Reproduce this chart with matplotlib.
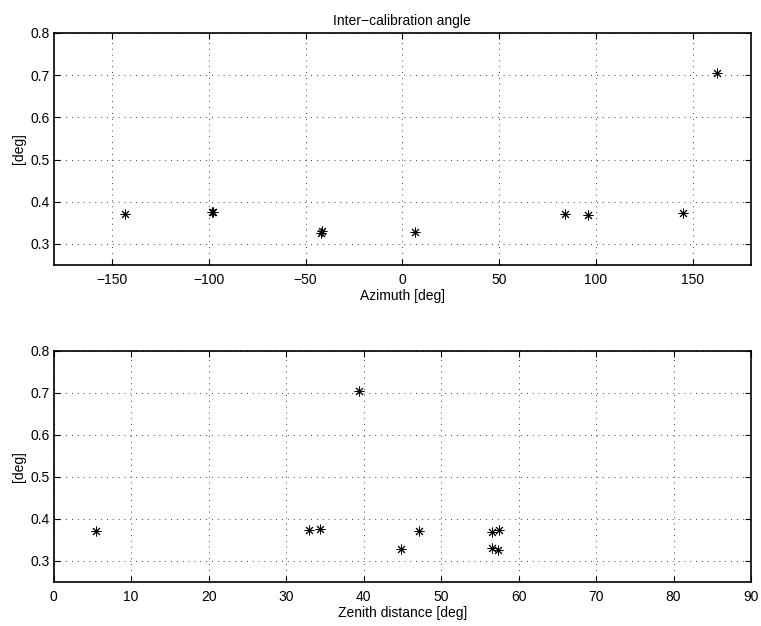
import matplotlib
matplotlib.use("Agg")
import matplotlib.pyplot as plt
import numpy as np

# Inter-calibration angle per observation
angle_deg = [0.372, 0.376, 0.375, 0.331, 0.326, 0.328, 0.372, 0.368, 0.373, 0.704]
azimuth_deg = [-143.4, -98.0, -98.3, -41.5, -41.8, 6.6, 84.1, 95.7, 145.0, 162.2]
zenith_deg = [5.4, 34.4, 33.0, 56.6, 57.3, 44.8, 47.2, 56.6, 57.5, 39.4]

az_ticks = [-150, -100, -50, 0, 50, 100, 150]
ze_ticks = [0, 10, 20, 30, 40, 50, 60, 70, 80, 90]
y_ticks = [0.3, 0.4, 0.5, 0.6, 0.7, 0.8]

plt.rcParams['font.family'] = ['Liberation Sans', 'DejaVu Sans']
plt.rcParams['font.size'] = 10

W, H = 761, 626
fig = plt.figure(figsize=(W / 100, H / 100), dpi=100)

def box(x0, y0, x1, y1):
    return [x0 / W, 1 - y1 / H, (x1 - x0) / W, (y1 - y0) / H]

ax1 = fig.add_axes(box(53.7, 33, 751, 265))
ax2 = fig.add_axes(box(53.7, 351, 751, 582))

asterisk = (8, 2, 0)

def style(ax, xticks, xlim, xlabel):
    ax.set_xlim(*xlim)
    ax.set_ylim(0.25, 0.8)
    ax.set_xticks(xticks)
    ax.set_yticks(y_ticks)
    ax.set_yticklabels([f"{t:.1f}" for t in y_ticks])
    ax.grid(True, color='black', linestyle=(0, (1, 6)), linewidth=0.6)
    ax.tick_params(direction='in', length=4, width=0.8, top=True, right=True,
                   labelsize=10)
    ax.tick_params(axis='x', pad=6)
    ax.tick_params(axis='y', pad=3)
    for sp in ax.spines.values():
        sp.set_linewidth(1.2)
    ax.set_xlabel(xlabel, fontsize=10, labelpad=1)
    ax.set_ylabel('[deg]', fontsize=10, labelpad=3)

ax1.plot(azimuth_deg, angle_deg, linestyle='none', marker=asterisk,
         markersize=7, markeredgewidth=0.7, color='black')
style(ax1, az_ticks, (-180, 180), 'Azimuth [deg]')
ax1.set_title('Inter\u2212calibration angle', fontsize=10, pad=6)

ax2.plot(zenith_deg, angle_deg, linestyle='none', marker=asterisk,
         markersize=7, markeredgewidth=0.7, color='black')
style(ax2, ze_ticks, (0, 90), 'Zenith distance [deg]')

fig.savefig('out.png', dpi=100)
